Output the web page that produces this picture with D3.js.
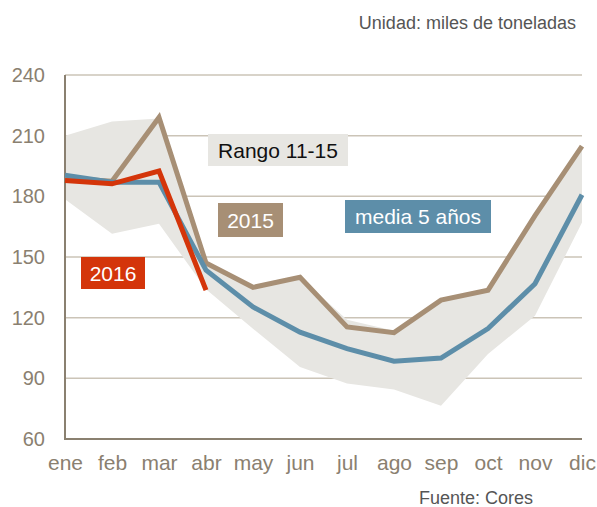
<!DOCTYPE html>
<html>
<head>
<meta charset="utf-8">
<script src="https://cdn.jsdelivr.net/npm/d3@7"></script>
<style>
  body { margin: 0; background: #fff; }
  svg { display: block; font-family: "Liberation Sans", Arial, sans-serif; }
</style>
</head>
<body>
<svg></svg>
<script>
const width = 597;
const height = 507;

const months = ['ene', 'feb', 'mar', 'abr', 'may', 'jun', 'jul', 'ago', 'sep', 'oct', 'nov', 'dic'];
const yTicks = [60, 90, 120, 150, 180, 210, 240];

// rango 2011-2015 (min / max)
const rangeHigh = [210, 217, 218.5, 148, 135, 140, 119, 113.5, 129, 134, 171, 205];
const rangeLow = [178.5, 161.5, 166.5, 134, 114.5, 95.6, 87.4, 84.5, 76.5, 102, 121, 167];
const serie2015 = [189, 187.5, 219, 147, 135, 140, 115.4, 112.6, 128.7, 133.6, 170.5, 204.8];
const media5 = [190.5, 187, 187, 143.5, 125.3, 112.8, 104.7, 98.5, 100, 114.6, 136.8, 180.8];
const serie2016 = [187.8, 186.2, 192.5, 133.6];

const colors = {
    band: '#e7e6e2',
    y2015: '#a78f75',
    media: '#5d8ea9',
    y2016: '#d4350a',
    axis: '#8a8070',
    grid: '#cbc4b7',
    text: '#8a8070'
};

const x = d3.scalePoint()
    .domain(months)
    .range([65, 582]);

const y = d3.scaleLinear()
    .domain([60, 240])
    .range([439, 75]);

const svg = d3.select('svg')
    .attr('width', width)
    .attr('height', height);

// gridlines
svg.append('g')
    .selectAll('line')
    .data(yTicks.slice(1))
    .enter()
    .append('line')
        .attr('x1', 65)
        .attr('x2', 582)
        .attr('y1', d => y(d))
        .attr('y2', d => y(d))
        .attr('stroke', colors.grid)
        .attr('stroke-width', 1.5);

// range band
const area = d3.area()
    .x((d, i) => x(months[i]))
    .y0(d => y(d[0]))
    .y1(d => y(d[1]));

svg.append('path')
    .datum(months.map((m, i) => [rangeLow[i], rangeHigh[i]]))
    .attr('fill', colors.band)
    .attr('d', area);

// axes
const yAxis = svg.append('g')
    .attr('transform', 'translate(65,0)')
    .call(d3.axisLeft(y).tickValues(yTicks).tickSize(0).tickPadding(20));
yAxis.select('.domain').remove();
yAxis.selectAll('text')
    .attr('fill', colors.text)
    .style('font-size', '20px');

const xAxis = svg.append('g')
    .attr('transform', 'translate(0,439)')
    .call(d3.axisBottom(x).tickSize(0).tickPadding(16));
xAxis.select('.domain').remove();
xAxis.selectAll('text')
    .attr('fill', colors.text)
    .style('font-size', '21px');

svg.append('line')
    .attr('x1', 65).attr('x2', 65)
    .attr('y1', 75).attr('y2', 439)
    .attr('stroke', colors.axis)
    .attr('stroke-width', 2);
svg.append('line')
    .attr('x1', 64).attr('x2', 582)
    .attr('y1', 439).attr('y2', 439)
    .attr('stroke', colors.axis)
    .attr('stroke-width', 2);

// lines
const line = d3.line()
    .x((d, i) => x(months[i]))
    .y(d => y(d));

[[serie2015, colors.y2015], [media5, colors.media], [serie2016, colors.y2016]].forEach(([data, color]) => {
    svg.append('path')
        .datum(data)
        .attr('fill', 'none')
        .attr('stroke', color)
        .attr('stroke-width', 5)
        .attr('stroke-linejoin', 'miter')
        .attr('d', line);
});

// labels
const labels = [
    { text: 'Rango 11-15', x: 208, y: 134, w: 140, h: 32, fill: colors.band, color: '#111' },
    { text: '2015', x: 218, y: 203, w: 65, h: 34, fill: colors.y2015, color: '#fff' },
    { text: 'media 5 años', x: 345, y: 200, w: 146, h: 33, fill: colors.media, color: '#fff' },
    { text: '2016', x: 81, y: 257, w: 64, h: 32, fill: colors.y2016, color: '#fff' }
];

const lab = svg.append('g')
    .selectAll('g')
    .data(labels)
    .enter()
    .append('g');
lab.append('rect')
    .attr('x', d => d.x)
    .attr('y', d => d.y)
    .attr('width', d => d.w)
    .attr('height', d => d.h)
    .attr('fill', d => d.fill);
lab.append('text')
    .attr('x', d => d.x + d.w / 2)
    .attr('y', d => d.y + d.h / 2)
    .attr('dy', '0.36em')
    .attr('text-anchor', 'middle')
    .attr('fill', d => d.color)
    .style('font-size', '21px')
    .text(d => d.text);

svg.append('text')
    .attr('x', 576)
    .attr('y', 29)
    .attr('text-anchor', 'end')
    .attr('fill', '#555')
    .style('font-size', '18px')
    .text('Unidad: miles de toneladas');

svg.append('text')
    .attr('x', 533)
    .attr('y', 504)
    .attr('text-anchor', 'end')
    .attr('fill', '#555')
    .style('font-size', '18px')
    .text('Fuente: Cores');
</script>
</body>
</html>
